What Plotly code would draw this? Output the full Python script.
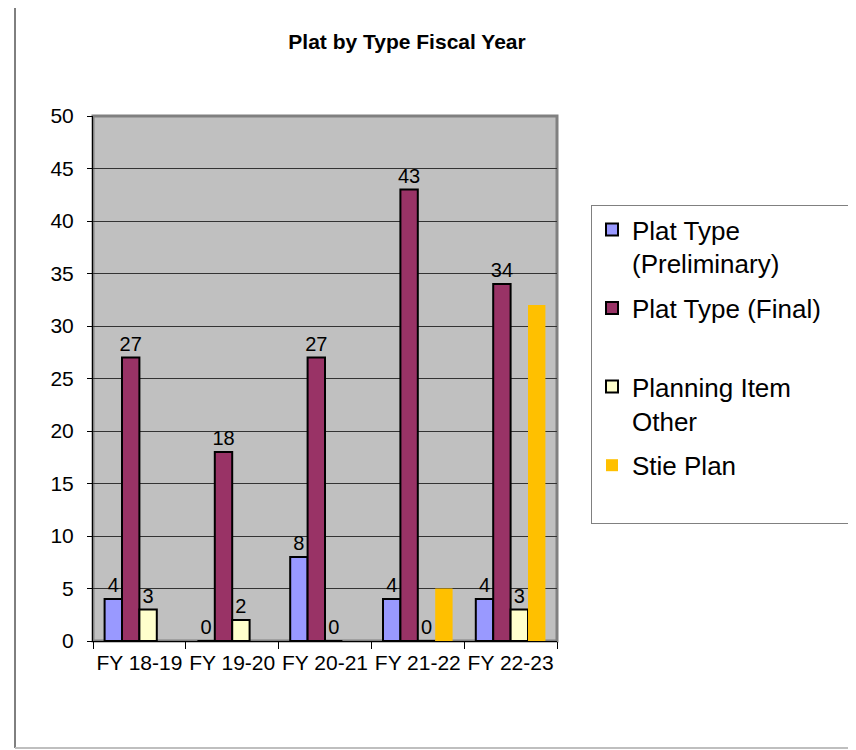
import plotly.graph_objects as go

categories = ["FY 18-19", "FY 19-20", "FY 20-21", "FY 21-22", "FY 22-23"]
preliminary = [4, 0, 8, 4, 4]
final = [27, 18, 27, 43, 34]
planning_other = [3, 2, 0, 0, 3]
site_plan = [None, None, None, 5, 32]

series_names = ["Plat Type<br>(Preliminary)", "Plat Type (Final)&nbsp;&nbsp;&nbsp;<br> ",
                "Planning Item<br>Other", "Stie Plan<br> "]
y_ticks = [0, 5, 10, 15, 20, 25, 30, 35, 40, 45, 50]

FONT = "Liberation Sans, Arial, sans-serif"

# page body has an 8px margin, so figure coords = screenshot coords - 8
L, R, T, B = 85, 549, 108, 633
W, H = 856, 750


def px(fx):
    return (fx - L) / (R - L)


def py(fy):
    return (B - fy) / (B - T)


fig = go.Figure()


def add_series(vals, name, color, outline, labels, group):
    fig.add_trace(go.Bar(
        x=categories, y=vals, name=name,
        marker=dict(color=color,
                    line=dict(color="black", width=2 if outline else 0)),
        text=[("" if v is None else str(v)) for v in vals] if labels else None,
        textposition="outside" if labels else "none",
        textfont=dict(family=FONT, size=20, color="black"),
        constraintext="none", cliponaxis=False,
        legendgroup=group,
    ))


add_series(preliminary, series_names[0], "#9999FF", True, True, "a")
add_series(final, series_names[1], "#993366", True, True, "b")
add_series(planning_other, series_names[2], "#FFFFCC", True, True, "c")
add_series(site_plan, series_names[3], "#FFC000", False, False, "d")

fig.update_layout(
    width=W, height=H,
    margin=dict(l=L, r=W - R, t=T, b=H - B, autoexpand=False),
    paper_bgcolor="white",
    plot_bgcolor="#C0C0C0",
    barmode="group",
    bargap=0.25, bargroupgap=0,
    title=dict(text="<b>Plat by Type Fiscal Year</b>", x=399 / W, xanchor="center",
               y=1 - 34 / H, yanchor="middle",
               font=dict(family=FONT, size=21, color="black")),
    font=dict(family=FONT, color="black"),
    showlegend=True,
    legend=dict(
        x=px(583), xanchor="left",
        y=py(197), yanchor="top",
        bgcolor="white", bordercolor="#808080", borderwidth=1,
        font=dict(family=FONT, size=26, color="black"),
        valign="top", tracegroupgap=8,
        traceorder="grouped",
    ),
    xaxis=dict(
        type="category",
        showline=True, linecolor="black", linewidth=1,
        ticks="outside", tickson="boundaries", ticklen=7, tickcolor="black",
        tickangle=0,
        tickfont=dict(family=FONT, size=21, color="black"),
        ticklabelstandoff=3,
        showgrid=False, zeroline=False,
    ),
    yaxis=dict(
        range=[0, 50], tickvals=y_ticks,
        showline=True, linecolor="black", linewidth=1,
        ticks="outside", ticklen=5, tickcolor="black",
        tickfont=dict(family=FONT, size=21, color="black"),
        ticklabelstandoff=9,
        showgrid=True, gridcolor="#333333", gridwidth=1,
        zeroline=False,
    ),
    shapes=[
        dict(type="rect", xref="paper", yref="paper", x0=0, x1=1, y0=0, y1=1,
             line=dict(color="#808080", width=3), layer="below"),
        dict(type="line", xref="paper", yref="paper",
             x0=px(7), x1=px(7), y0=py(740), y1=py(-10),
             line=dict(color="black", width=1)),
        dict(type="line", xref="paper", yref="paper",
             x0=px(7), x1=px(W + 10), y0=py(740), y1=py(740),
             line=dict(color="#BFBFBF", width=2)),
    ],
)

fig.write_html("out.html")
